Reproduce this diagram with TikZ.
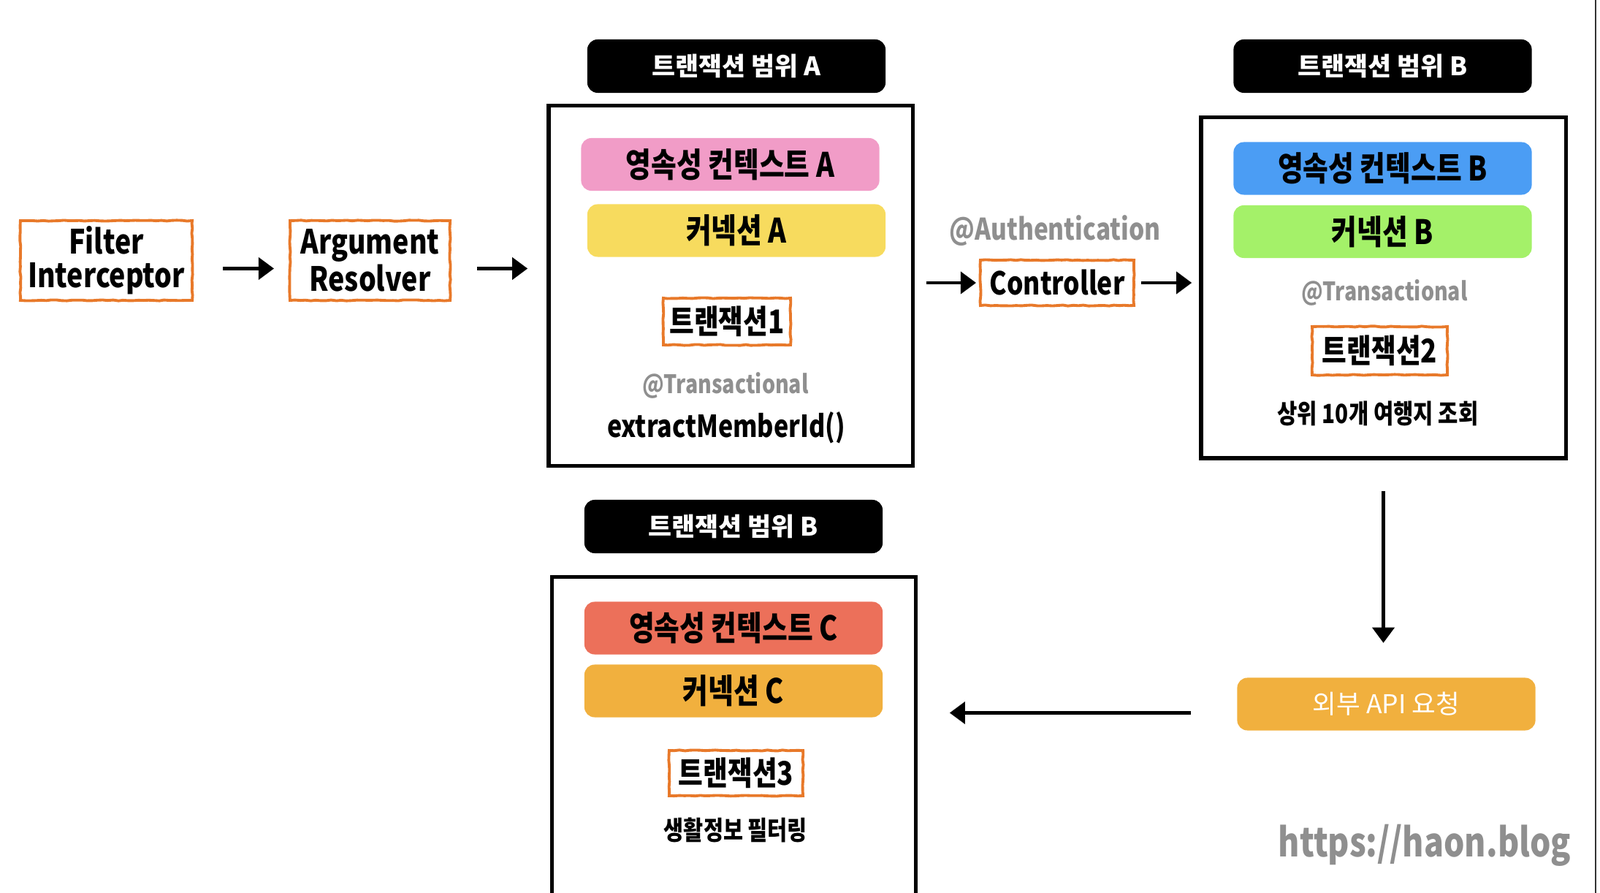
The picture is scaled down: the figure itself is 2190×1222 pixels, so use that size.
\documentclass[tikz,border=0pt]{standalone}
\usepackage{fontspec}
\setmainfont{Noto Sans CJK KR}[FakeStretch=0.82]
\newfontfamily\widefont{Noto Sans CJK KR}
\usepackage{tikz}
\usetikzlibrary{arrows.meta,calc,decorations.pathmorphing}

\definecolor{roughorange}{HTML}{E8792A}
\definecolor{notegray}{HTML}{8F8F8F}
\definecolor{pinkA}{HTML}{F19CC7}
\definecolor{yellowA}{HTML}{F7DB5E}
\definecolor{blueB}{HTML}{4B9DF4}
\definecolor{greenB}{HTML}{A4F169}
\definecolor{redC}{HTML}{EC705A}
\definecolor{orangeC}{HTML}{F1B03E}

\newcommand{\fsz}[1]{\fontsize{#1}{#1}\selectfont}

\begin{document}
\begin{tikzpicture}[x=0.01cm,y=-0.01cm,
     rough/.style={draw=roughorange,line width=1.1pt,decorate,
        decoration={random steps,segment length=2pt,amplitude=0.18pt},
        inner sep=0pt,align=center,font=\bfseries\fsz{13}},
     frame/.style={draw,line width=1.5pt,inner sep=0pt},
     title/.style={fill=black,text=white,rounded corners=0.14cm,inner sep=0pt,
        minimum width=4.08cm,minimum height=0.73cm,font=\widefont\bfseries\fsz{9.9}},
     layer/.style={rounded corners=0.14cm,inner sep=0pt,
        minimum width=4.08cm,minimum height=0.72cm,font=\bfseries\fsz{13.1}},
     note/.style={text=notegray,font=\bfseries\fsz{9.9}},
     flow/.style={line width=1.3pt,-{Triangle[length=6pt,width=8.5pt]}}
     ]
\useasboundingbox (0,0) rectangle (2190,1222);

%Edge of the page
\draw[line width=0.6pt,black!80] (2184,0) -- (2184,1222);

%Request chain before the first transaction
\node[rough,minimum width=2.35cm,minimum height=1.09cm] (filter) at (145.5,356.5) {Filter\\Interceptor};
\node[rough,minimum width=2.19cm,minimum height=1.09cm] (resolver) at (506.5,356.5) {Argument\\Resolver};

%Transaction frames
\node[frame,minimum width=4.98cm,minimum height=4.92cm] (boxA) at (1000,391) {};
\node[frame,minimum width=4.99cm,minimum height=4.66cm] (boxB) at (1893.5,394) {};
\node[inner sep=0pt,minimum width=4.97cm,minimum height=4.6cm] (boxC) at (1004.5,1020) {};
\draw[line width=1.5pt] (boxC.south west) -- (boxC.north west) -- (boxC.north east) -- (boxC.south east);

%Titles above the frames
\foreach [count=\i] \px/\py/\t in {1008/90.5/A,1892.5/90.5/B,1004/720.5/B}
   {
   \node[title] (title\i) at (\px,\py) {트랜잭션 범위 \t};
   }

%Transaction A
\node[layer,fill=pinkA] (ctxA) at (999.5,225) {영속성 컨텍스트 A};
\node[layer,fill=yellowA] (connA) at (1008,315.5) {커넥션 A};
\node[rough,minimum width=1.74cm,minimum height=0.64cm,font=\bfseries\fsz{12.7}] (tx1) at (995,440) {트랜잭션1};
\node[note] (txnoteA) at (993,528) {@Transactional};
\node[font=\bfseries\fsz{11.8}] (extract) at (994,585) {extractMemberId()};

%Controller
\node[note,font=\bfseries\fsz{11.6}] (auth) at (1444,316) {@Authentication};
\node[rough,minimum width=2.1cm,minimum height=0.62cm,font=\bfseries\fsz{12.3}] (ctrl) at (1447,387) {Controller};

%Transaction B
\node[layer,fill=blueB] (ctxB) at (1892.5,230.5) {영속성 컨텍스트 B};
\node[layer,fill=greenB] (connB) at (1892.5,317) {커넥션 B};
\node[note] (txnoteB) at (1895,401) {@Transactional};
\node[rough,minimum width=1.85cm,minimum height=0.66cm,font=\bfseries\fsz{12.7}] (tx2) at (1888.5,480) {트랜잭션2};
\node[font=\bfseries\fsz{10.3}] (top10) at (1886,566) {상위 10개 여행지 조회};

%External call
\node[layer,fill=orangeC,text=white,font=\widefont\fsz{10.1}] (api) at (1897.5,963.5) {외부 API 요청};

%Transaction C
\node[layer,fill=redC] (ctxC) at (1004,859.5) {영속성 컨텍스트 C};
\node[layer,fill=orangeC] (connC) at (1004,945.5) {커넥션 C};
\node[rough,minimum width=1.83cm,minimum height=0.62cm,font=\bfseries\fsz{12.7}] (tx3) at (1007.5,1058) {트랜잭션3};
\node[font=\bfseries\fsz{10.2}] (filtering) at (1007,1136) {생활정보 필터링};

\node[text=notegray,font=\bfseries\fsz{15.5}] (blog) at (1950,1157) {https://haon.blog};

%Arrows
\draw[flow,shorten <=0.4cm,shorten >=0.2cm] ($(filter.east)+(0,11)$) -- ($(resolver.west)+(0,11)$);
\draw[flow,shorten <=0.35cm,shorten >=0.26cm] ($(resolver.east)+(0,11)$) -- ($(resolver.east -| boxA.west)+(0,11)$);
\draw[flow,shorten <=0.16cm,shorten >=0.04cm] (boxA.east |- ctrl.west) -- (ctrl.west);
\draw[flow,shorten <=0.08cm,shorten >=0.1cm] (ctrl.east) -- (ctrl.east -| boxB.west);
\draw[flow,shorten <=0.42cm,shorten >=0.47cm] (boxB.south) -- (boxB.south |- api.north);
\draw[flow,shorten <=0.63cm,shorten >=0.46cm] ($(api.west)+(0,12)$) -- ($(api.west -| boxC.east)+(0,12)$);
\end{tikzpicture}
\end{document}
